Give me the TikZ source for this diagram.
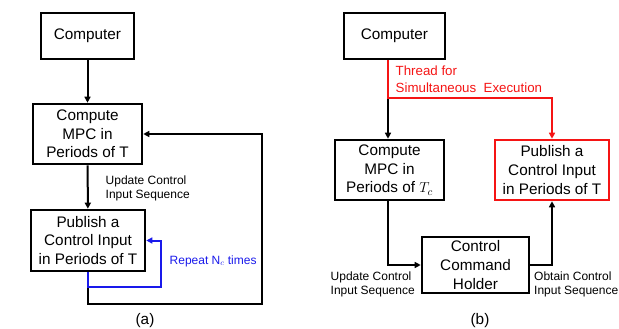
\documentclass[tikz,border=0pt]{standalone}
\usepackage{fontspec}
\setmainfont{Liberation Sans}
\usetikzlibrary{arrows.meta}

\newcommand{\blocktext}{\fontsize{15.3}{18.6}\selectfont}
\newcommand{\notetext}{\fontsize{12}{14}\selectfont}
\definecolor{loopblue}{RGB}{25,25,235}
\definecolor{threadred}{RGB}{245,20,20}

\tikzset{
  blk/.style={draw, line width=2.6pt, align=center, inner sep=0pt, font=\blocktext},
  link/.style={line width=2pt, -{Triangle[length=6pt,width=6pt]}},
  note/.style={align=left, inner sep=0pt, font=\notetext}
}

\begin{document}
\begin{tikzpicture}[x=1pt,y=-1pt]
\useasboundingbox (0,0) rectangle (619,329);

% (a) nodes
\node[blk, minimum width=93pt, minimum height=46pt] (acomp) at (87.5,36) {Computer};
\node[blk, minimum width=109pt, minimum height=60pt] (ampc) at (87.5,134) {Compute\\MPC in\\Periods of T};
\node[blk, minimum width=114pt, minimum height=61pt] (apub) at (88,240.5) {Publish a\\Control Input\\in Periods of T};
\coordinate (aouter) at (262,304);
\coordinate (ainner) at (161,287);

% (a) connectors
\draw[link] (acomp) -- (ampc);
\draw[link] (ampc) -- (apub);
\draw[link] (apub.south) |- (aouter) |- (ampc.east);
\draw[link, loopblue] (apub.south) |- (ainner) |- (apub.east);

\node[note, anchor=west] (aupd) at (105.5,188) {Update Control\\Input Sequence};
\node[note, anchor=west, text=loopblue] (arep) at (169.5,261) {Repeat N$_c$ times};
\node[font=\blocktext] (acap) at (145,321) {(a)};

% (b) nodes
\node[blk, minimum width=101pt, minimum height=46pt] (bcomp) at (394.5,36) {Computer};
\node[blk, minimum width=109pt, minimum height=60pt] (bmpc) at (389.5,170) {Compute\\MPC in\\Periods of $T_c$};
\node[blk, draw=threadred, minimum width=114pt, minimum height=60pt] (bpub) at (552,170) {Publish a\\Control Input\\in Periods of T};
\node[blk, minimum width=107pt, minimum height=56pt] (bhold) at (475.5,265) {Control\\Command\\Holder};
\coordinate (bsplit) at (388,98);

% (b) connectors
\draw[link] (bsplit) -- (bsplit |- bmpc.north);
\draw[link, threadred] (bsplit |- bcomp.south) -- (bsplit) -| (bpub.north);
\draw[link] (bsplit |- bmpc.south) |- (bhold.west);
\draw[link] (bhold.east) -| (bpub.south);

\node[note, anchor=west, text=threadred, font=\fontsize{13.3}{17}\selectfont] (bthr) at (395.5,79.5) {Thread for\\Simultaneous\ \ Execution};
\node[note, anchor=west] (bupd) at (330.5,284) {Update Control\\Input Sequence};
\node[note, anchor=west] (bobt) at (534,284) {Obtain Control\\Input Sequence};
\node[font=\blocktext] (bcap) at (480,321) {(b)};

\end{tikzpicture}
\end{document}
